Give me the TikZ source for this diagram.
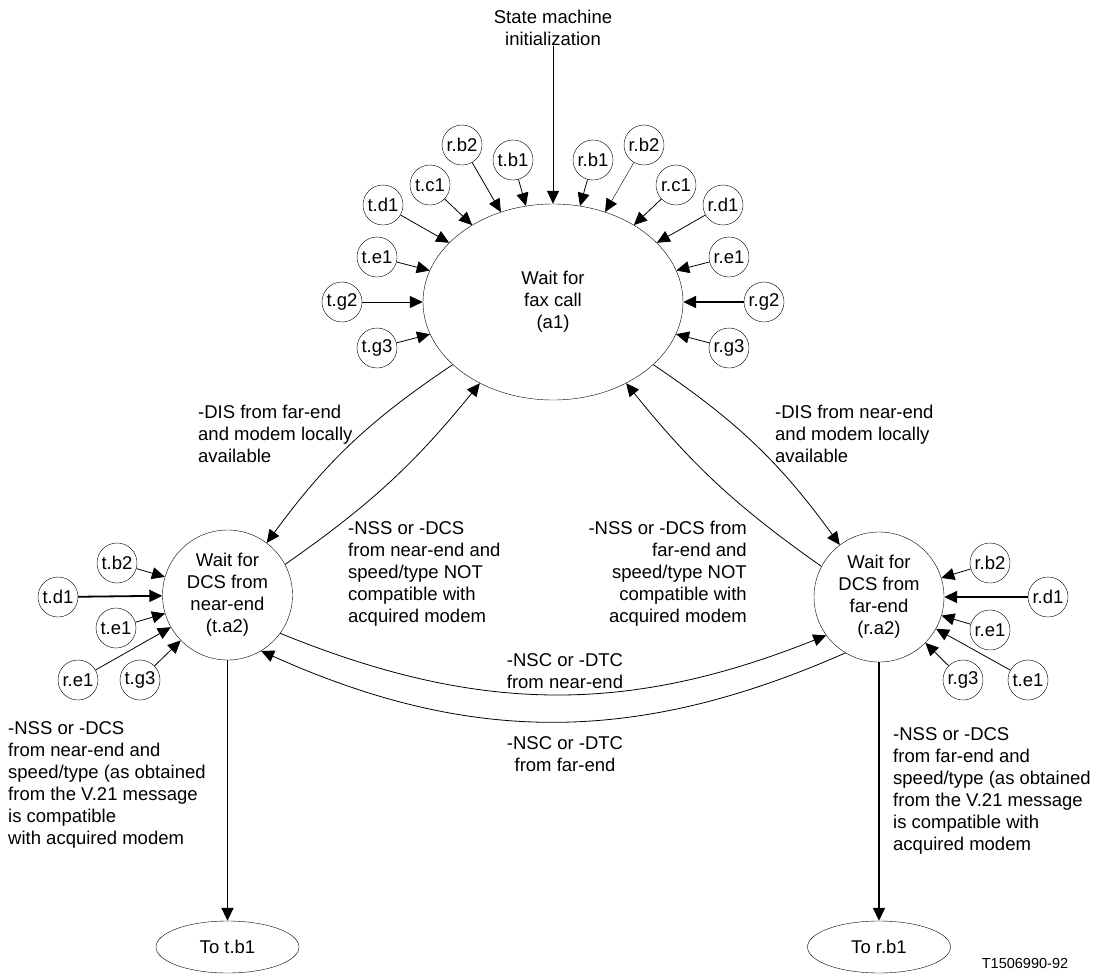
\documentclass[tikz,border=0pt]{standalone}
\usepackage{fontspec}
\setmainfont{Liberation Sans}
\usetikzlibrary{arrows.meta,shapes.geometric}

\begin{document}
\begin{tikzpicture}[x=1pt, y=-1pt, font=\fontsize{18.5}{22}\selectfont,
  state/.style={draw, circle, align=center, inner sep=0pt, minimum size=130pt},
  entry/.style={draw, circle, inner sep=0pt, minimum size=40pt},
  exit/.style={draw, ellipse, inner sep=0pt, minimum width=143pt, minimum height=52pt},
  note/.style={align=left, inner sep=0pt},
  transfer/.style={-{Triangle[length=13pt, width=12pt]}, line width=0.8pt},
  heavy/.style={transfer, line width=1.8pt},
]
\useasboundingbox (0, 0) rectangle (1095, 974);

\node[note, align=center] (init) at (553, 28) {State machine\\initialization};
\node[draw, ellipse, align=center, inner sep=0pt, minimum width=260pt, minimum height=196pt] (a1) at (553, 302) {Wait for\\fax call\\(a1)};
\node[state] (ta2) at (227.5, 595) {Wait for\\DCS from\\near-end\\(t.a2)};
\node[state] (ra2) at (879, 597) {Wait for\\DCS from\\far-end\\(r.a2)};
\node[exit] (totb1) at (227.5, 947) {To t.b1};
\node[exit] (torb1) at (879, 947) {To r.b1};

% entries of (a1)
\node[entry] (a1rb2l) at (462, 145) {r.b2};
\node[entry] (a1tb1) at (513, 160) {t.b1};
\node[entry] (a1rb1) at (593, 160) {r.b1};
\node[entry] (a1rb2r) at (644, 145) {r.b2};
\node[entry] (a1tc1) at (430, 185) {t.c1};
\node[entry] (a1rc1) at (676, 185) {r.c1};
\node[entry] (a1td1) at (383, 205) {t.d1};
\node[entry] (a1rd1) at (723, 205) {r.d1};
\node[entry] (a1te1) at (377, 257) {t.e1};
\node[entry] (a1re1) at (729, 257) {r.e1};
\node[entry] (a1tg2) at (342, 302) {t.g2};
\node[entry] (a1rg2) at (764, 302) {r.g2};
\node[entry] (a1tg3) at (377, 348) {t.g3};
\node[entry] (a1rg3) at (729, 348) {r.g3};

% entries of (t.a2) and (r.a2)
\node[entry] (ta2tb2) at (117, 563) {t.b2};
\node[entry] (ta2td1) at (58, 597) {t.d1};
\node[entry] (ta2te1) at (116, 628) {t.e1};
\node[entry] (ta2re1) at (78, 680) {r.e1};
\node[entry] (ta2tg3) at (140, 680) {t.g3};
\node[entry] (ra2rb2) at (990, 563) {r.b2};
\node[entry] (ra2rd1) at (1048, 597) {r.d1};
\node[entry] (ra2re1) at (990, 630) {r.e1};
\node[entry] (ra2rg3) at (963, 680) {r.g3};
\node[entry] (ra2te1) at (1028, 680) {t.e1};

\node[note, anchor=west] (disfar) at (198, 434) {-DIS from far-end\\and modem locally\\available};
\node[note, anchor=west] (disnear) at (775, 434) {-DIS from near-end\\and modem locally\\available};
\node[note, anchor=west] (nssnear) at (348, 574) {-NSS or -DCS\\from near-end and\\speed/type NOT\\compatible with\\acquired modem};
\node[note, align=right, anchor=east] (nssfar) at (747, 574) {-NSS or -DCS from\\far-end and\\speed/type NOT\\compatible with\\acquired modem};
\node[note, align=center] (nscnear) at (565, 671) {-NSC or -DTC\\from near-end};
\node[note, align=center] (nscfar) at (565, 754) {-NSC or -DTC\\from far-end};
\node[note, anchor=west] (oknear) at (8, 785) {-NSS or -DCS\\from near-end and\\speed/type (as obtained\\from the V.21 message\\is compatible\\with acquired modem};
\node[note, anchor=west] (okfar) at (893, 791) {-NSS or -DCS\\from far-end and\\speed/type (as obtained\\from the V.21 message\\is compatible with\\acquired modem};
\node[font=\fontsize{14.5}{17}\selectfont] (figno) at (1025, 963) {T1506990-92};

\draw[transfer] (init) -- (a1);
\draw[transfer] (a1rb2l) -- (a1);
\draw[transfer] (a1tb1) -- (a1);
\draw[transfer] (a1rb1) -- (a1);
\draw[transfer, line width=0.4pt] (a1rb2r) -- (a1);
\draw[transfer] (a1tc1) -- (a1);
\draw[transfer] (a1rc1) -- (a1);
\draw[transfer] (a1td1) -- (a1);
\draw[transfer] (a1rd1) -- (a1);
\draw[transfer] (a1te1) -- (a1);
\draw[transfer] (a1re1) -- (a1);
\draw[transfer] (a1tg2) -- (a1);
\draw[heavy] (a1rg2) -- (a1);
\draw[transfer] (a1tg3) -- (a1);
\draw[transfer] (a1rg3) -- (a1);

\draw[transfer] (ta2tb2) -- (ta2);
\draw[heavy] (ta2td1) -- (ta2);
\draw[transfer] (ta2te1) -- (ta2);
\draw[transfer] (ta2re1) -- (ta2);
\draw[transfer] (ta2tg3) -- (ta2);
\draw[transfer] (ra2rb2) -- (ra2);
\draw[heavy] (ra2rd1) -- (ra2);
\draw[transfer] (ra2re1) -- (ra2);
\draw[transfer] (ra2rg3) -- (ra2);
\draw[transfer] (ra2te1) -- (ra2);

\draw[transfer, bend right=10] (a1.212) to (ta2.53);
\draw[transfer, bend right=8] (ta2.28) to (a1.228);
\draw[transfer, bend left=10] (a1.328) to (ra2.127);
\draw[transfer, bend left=8] (ra2.152) to (a1.312);
\draw[transfer, bend right=22] (ta2.324) to (ra2.216);
\draw[transfer, bend left=24] (ra2.239) to (ta2.301);
\draw[heavy] (ta2) -- (totb1);
\draw[heavy] (ra2) -- (torb1);
\end{tikzpicture}
\end{document}
